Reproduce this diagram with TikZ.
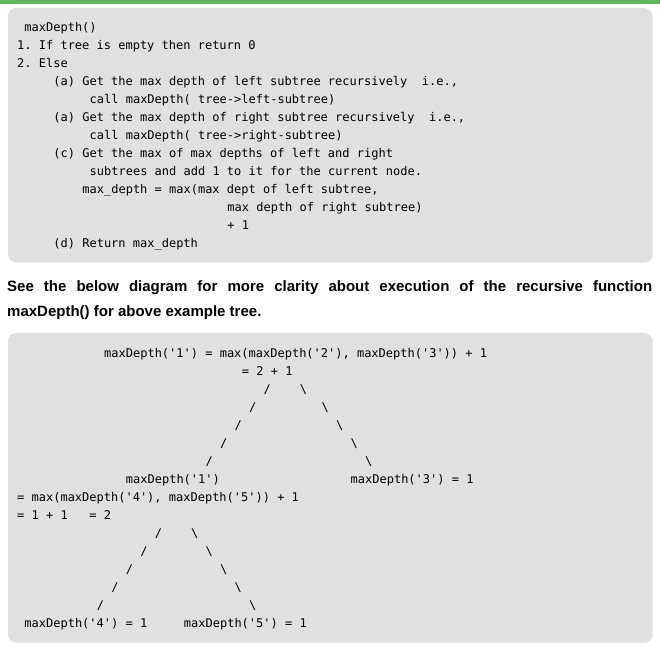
\documentclass[tikz,border=0pt]{standalone}
\usepackage{fontspec}
\setmainfont{Liberation Sans}
\setmonofont{DejaVu Sans Mono}

\definecolor{topgreen}{RGB}{92,184,92}
\definecolor{codebg}{RGB}{224,224,224}
\definecolor{codeshade}{RGB}{236,236,236}

\tikzset{
    codebox/.style={fill=codebg, rounded corners=8pt},
    boxshade/.style={fill=codeshade, rounded corners=8pt},
    code/.style={anchor=base west, inner sep=0pt, font=\ttfamily\fontsize{12}{18}\selectfont},
    note/.style={anchor=base west, inner sep=0pt, font=\bfseries\fontsize{15}{25}\selectfont}
}

\begin{document}
\begin{tikzpicture}[x=1pt, y=-1pt]
    \useasboundingbox (0,0) rectangle (660,647);
    \fill[topgreen] (0,0) rectangle (660,4);

    % algorithm box
    \fill[boxshade] (9,9) rectangle (653,263);
    \fill[codebox] (8,8) rectangle (652,262);
    \begin{scope}[shift={(17,31.3)}, x=7.25pt, y=-18pt]
        \node[code] (head) at (1,0)  {maxDepth()};
        \node[code] (st1)  at (0,1)  {1. If tree is empty then return 0};
        \node[code] (st2)  at (0,2)  {2. Else};
        \node[code] (sta)  at (5,3)  {(a) Get the max depth of left subtree recursively~~i.e.,};
        \node[code] (cla)  at (10,4) {call maxDepth( tree->left-subtree)};
        \node[code] (stb)  at (5,5)  {(a) Get the max depth of right subtree recursively~~i.e.,};
        \node[code] (clb)  at (10,6) {call maxDepth( tree->right-subtree)};
        \node[code] (stc)  at (5,7)  {(c) Get the max of max depths of left and right};
        \node[code] (stc2) at (10,8) {subtrees and add 1 to it for the current node.};
        \node[code] (eq1)  at (9,9)  {max\_depth = max(max dept of left subtree,};
        \node[code] (eq2)  at (29,10) {max depth of right subtree)};
        \node[code] (eq3)  at (29,11) {+ 1};
        \node[code] (std)  at (5,12) {(d) Return max\_depth};
    \end{scope}

    % text between the boxes
    \node[note] (line1) at (7,291) {\makebox[645pt][s]{See the below diagram for more clarity about execution of the recursive function}};
    \node[note] (line2) at (7,316) {maxDepth() for above example tree.};

    % call tree box
    \fill[boxshade] (9,334) rectangle (653,643);
    \fill[codebox] (8,333) rectangle (652,642);
    \begin{scope}[shift={(17,357.3)}, x=7.25pt, y=-18pt]
        \node[code] (root)  at (12,0) {maxDepth('1') = max(maxDepth('2'), maxDepth('3')) + 1};
        \node[code] (rootv) at (31,1) {= 2 + 1};
        \foreach \r/\a/\b [count=\i] in {2/34/39, 3/32/42, 4/30/44, 5/28/46, 6/26/48}
        {
            \node[code] (ul\i) at (\a,\r) {/};
            \node[code] (ur\i) at (\b,\r) {\textbackslash};
        }
        \node[code] (left)   at (15,7) {maxDepth('1')};
        \node[code] (right)  at (46,7) {maxDepth('3') = 1};
        \node[code] (lefte)  at (0,8)  {= max(maxDepth('4'), maxDepth('5')) + 1};
        \node[code] (leftv)  at (0,9)  {= 1 + 1~~~= 2};
        \foreach \r/\a/\b [count=\i] in {10/19/24, 11/17/26, 12/15/28, 13/13/30, 14/11/32}
        {
            \node[code] (ll\i) at (\a,\r) {/};
            \node[code] (lr\i) at (\b,\r) {\textbackslash};
        }
        \node[code] (leaf4) at (1,15)  {maxDepth('4') = 1};
        \node[code] (leaf5) at (23,15) {maxDepth('5') = 1};
    \end{scope}
\end{tikzpicture}
\end{document}
